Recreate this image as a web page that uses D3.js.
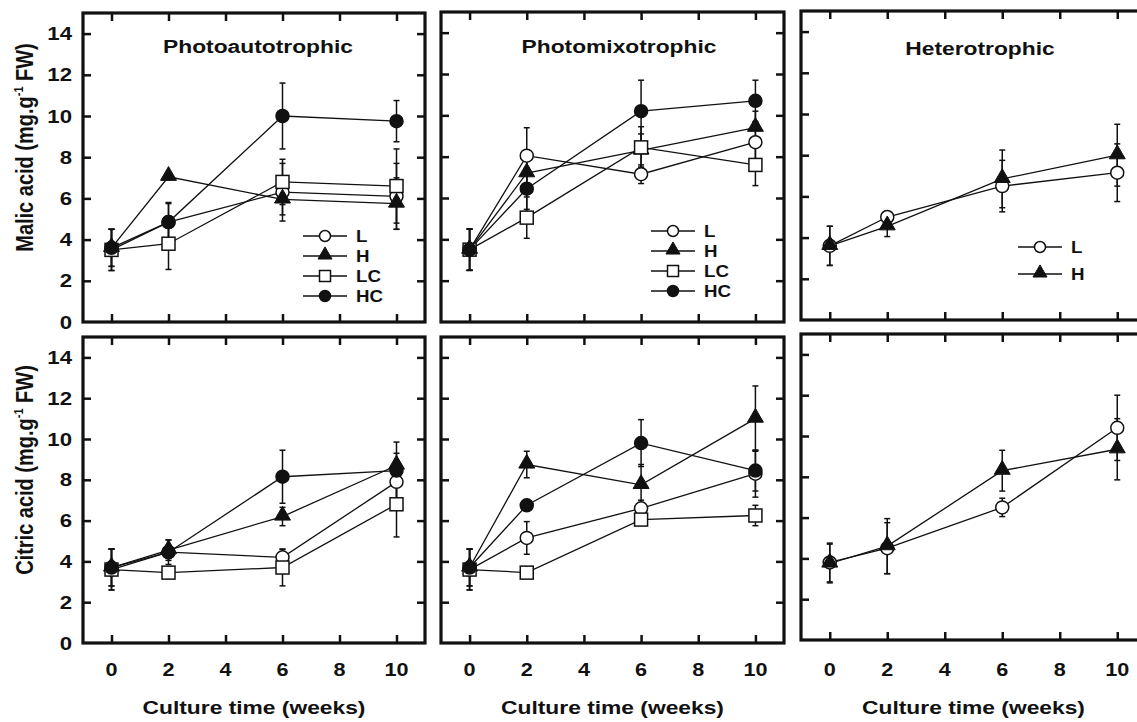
<!DOCTYPE html>
<html>
<head>
<meta charset="utf-8">
<script src="https://cdn.jsdelivr.net/npm/d3@7"></script>
<style>
  body { margin: 0; background: #fff; }
  svg { font-family: "Liberation Sans", Arial, sans-serif; font-weight: bold; }
</style>
</head>
<body>
<svg id="chart" width="1137" height="722"></svg>
<script>
// x values (weeks) and ticks
var weeks = [0, 2, 6, 10];
var xTicks = [0, 2, 4, 6, 8, 10];
var yTicks = [2, 4, 6, 8, 10, 12, 14];
var yTickLabels = [0, 2, 4, 6, 8, 10, 12, 14];

var names4 = ["L", "H", "LC", "HC"];
var names2 = ["L", "H"];

// malic acid, rows in the order of names4 / names2
var malicAuto    = [[3.5, 4.85, 6.3, 6.1], [3.6, 7.05, 5.95, 5.75], [3.5, 3.8, 6.8, 6.6], [3.6, 4.85, 10.0, 9.75]];
var malicAutoErr = [[1.0, 0.9, 1.4, 1.6], [0.9, 0.15, 0.75, 1.25], [1.0, 1.25, 1.1, 1.8], [0.9, 0.95, 1.6, 1.0]];
var malicMixo    = [[3.5, 8.05, 7.15, 8.7], [3.5, 7.2, 8.3, 9.4], [3.5, 5.05, 8.45, 7.6], [3.5, 6.45, 10.2, 10.7]];
var malicMixoErr = [[1.0, 1.35, 0.45, 0.8], [1.0, 0.6, 0.8, 0.8], [1.0, 1.0, 1.0, 1.0], [1.0, 1.0, 1.5, 1.0]];
var malicHetero    = [[3.6, 5.0, 6.5, 7.15], [3.6, 4.55, 6.85, 8.0]];
var malicHeteroErr = [[0.95, 0.2, 1.25, 1.4], [0.95, 0.5, 1.4, 1.5]];

// citric acid
var citricAuto    = [[3.6, 4.45, 4.2, 7.9], [3.7, 4.55, 6.2, 8.7], [3.6, 3.45, 3.7, 6.8], [3.7, 4.45, 8.15, 8.45]];
var citricAutoErr = [[1.0, 0.3, 0.4, 0.8], [0.9, 0.5, 0.45, 0.6], [1.0, 0.15, 0.9, 1.6], [0.9, 0.6, 1.3, 1.4]];
var citricMixo    = [[3.6, 5.15, 6.6, 8.3], [3.7, 8.75, 7.75, 11.0], [3.6, 3.45, 6.05, 6.25], [3.7, 6.75, 9.8, 8.45]];
var citricMixoErr = [[1.0, 0.8, 0.4, 1.15], [0.9, 0.65, 1.0, 1.6], [1.0, 0.1, 0.2, 0.5], [0.9, 0.15, 1.15, 1.0]];
var citricHetero    = [[3.8, 4.5, 6.5, 10.4], [3.75, 4.6, 8.3, 9.35]];
var citricHeteroErr = [[0.95, 1.25, 0.45, 1.6], [0.95, 1.35, 1.0, 1.5]];

var svg = d3.select("#chart");
var SX = 1.2; // the reference text is stretched horizontally

// text helper with a non-uniform scale
function label(parent, txt, x, y, opts) {
    opts = opts || {};
    var t = parent.append("text")
        .attr("transform", "translate(" + x + "," + y + ") scale(" + (opts.sx || SX) + "," + (opts.sy || 1) + ")" + (opts.rot ? " rotate(" + opts.rot + ")" : ""))
        .attr("text-anchor", opts.anchor || "start")
        .attr("font-size", opts.size || 18)
        .attr("fill", "#111");
    if (opts.dy) t.attr("dy", opts.dy);
    t.text(txt);
    return t;
}

function marker(g, name, cx, cy, big) {
    var r = big ? 6.5 : 5.5;
    if (name == "L" || name == "HC") {
        g.append("circle").attr("cx", cx).attr("cy", cy).attr("r", r)
            .attr("fill", name == "L" ? "#fff" : "#111").attr("stroke", "#111").attr("stroke-width", 1.5);
    } else if (name == "LC") {
        g.append("rect").attr("x", cx - r).attr("y", cy - r).attr("width", 2 * r).attr("height", 2 * r)
            .attr("fill", "#fff").attr("stroke", "#111").attr("stroke-width", 1.5);
    } else {
        g.append("path").attr("d", d3.symbol().type(d3.symbolTriangle).size(big ? 110 : 85)())
            .attr("transform", "translate(" + cx + "," + (cy - 1) + ")")
            .attr("fill", "#111").attr("stroke", "#111").attr("stroke-width", 1);
    }
}

var panels = [
    { title: "Photoautotrophic", tx: 258, ty: 53, vals: malicAuto, errs: malicAutoErr, names: names4,
      left: 83, right: 425, top: 13, bottom: 322, yTitle: "Malic acid", legend: [325, 236] },
    { title: "Photomixotrophic", tx: 619, ty: 53, vals: malicMixo, errs: malicMixoErr, names: names4,
      left: 441, right: 784, top: 12, bottom: 322, legend: [673, 231] },
    { title: "Heterotrophic", tx: 980, ty: 55, vals: malicHetero, errs: malicHeteroErr, names: names2,
      left: 801, right: 1146, top: 11, bottom: 320, legend: [1040, 247] },
    { vals: citricAuto, errs: citricAutoErr, names: names4,
      left: 83, right: 425, top: 337, bottom: 643, yTitle: "Citric acid", xLabels: true },
    { vals: citricMixo, errs: citricMixoErr, names: names4,
      left: 441, right: 784, top: 337, bottom: 643, xLabels: true },
    { vals: citricHetero, errs: citricHeteroErr, names: names2,
      left: 801, right: 1146, top: 334, bottom: 640, xLabels: true }
];

panels.forEach(function (p) {
    var x = d3.scaleLinear().domain([-1, 11]).range([p.left, p.right]);
    var y = d3.scaleLinear().domain([0, 15]).range([p.bottom, p.top]);
    var g = svg.append("g");

    // inward ticks on all four sides
    var tickStyle = function (a) {
        a.select(".domain").remove();
        a.selectAll("line").attr("stroke", "#111").attr("stroke-width", 2.5);
    };
    g.append("g").attr("transform", "translate(0," + p.bottom + ")")
        .call(d3.axisTop(x).tickValues(xTicks).tickSize(8).tickFormat("")).call(tickStyle);
    g.append("g").attr("transform", "translate(0," + p.top + ")")
        .call(d3.axisBottom(x).tickValues(xTicks).tickSize(8).tickFormat("")).call(tickStyle);
    g.append("g").attr("transform", "translate(" + p.left + ",0)")
        .call(d3.axisRight(y).tickValues(yTicks).tickSize(8).tickFormat("")).call(tickStyle);
    g.append("g").attr("transform", "translate(" + p.right + ",0)")
        .call(d3.axisLeft(y).tickValues(yTicks).tickSize(8).tickFormat("")).call(tickStyle);

    // frame
    g.append("rect").attr("x", p.left).attr("y", p.top)
        .attr("width", p.right - p.left).attr("height", p.bottom - p.top)
        .attr("fill", "none").attr("stroke", "#111").attr("stroke-width", 3.2);

    // series lines
    var line = d3.line().x(function (d, i) { return x(weeks[i]); }).y(function (d) { return y(d); });
    p.vals.forEach(function (v) {
        g.append("path").attr("d", line(v)).attr("fill", "none")
            .attr("stroke", "#111").attr("stroke-width", 1.3);
    });

    // error bars
    p.vals.forEach(function (v, s) {
        v.forEach(function (d, i) {
            var e = p.errs[s][i], cx = x(weeks[i]);
            g.append("line").attr("x1", cx).attr("x2", cx).attr("y1", y(d - e)).attr("y2", y(d + e))
                .attr("stroke", "#111").attr("stroke-width", 1.5);
            [d - e, d + e].forEach(function (c) {
                g.append("line").attr("x1", cx - 3).attr("x2", cx + 3).attr("y1", y(c)).attr("y2", y(c))
                    .attr("stroke", "#111").attr("stroke-width", 1.5);
            });
        });
    });

    // markers
    p.vals.forEach(function (v, s) {
        v.forEach(function (d, i) { marker(g, p.names[s], x(weeks[i]), y(d), true); });
    });

    if (p.title) label(g, p.title, p.tx, p.ty, { anchor: "middle", size: 19 });

    // y tick labels and title on the left column
    if (p.yTitle) {
        yTickLabels.forEach(function (t) {
            label(g, t, p.left - 11, y(t), { anchor: "end", size: 18.5, dy: "0.36em" });
        });
        var yt = label(g, p.yTitle + " (mg.g", 33, (p.top + p.bottom) / 2 - 20, { anchor: "middle", size: 20, rot: -90 });
        yt.append("tspan").attr("font-size", 11).attr("dy", -8).text("-1");
        yt.append("tspan").attr("dy", 8).text(" FW)");
    }

    if (p.xLabels) {
        xTicks.forEach(function (t) {
            label(g, t, x(t), 676, { anchor: "middle", size: 18 });
        });
        label(g, "Culture time (weeks)", x(5), 714, { anchor: "middle", size: 19 });
    }

    // legend
    if (p.legend) {
        var lx = p.legend[0], ly = p.legend[1];
        p.names.forEach(function (n, i) {
            var yy = ly + i * (p.names.length == 4 ? 20 : 27);
            g.append("line").attr("x1", lx - 22).attr("x2", lx + 22).attr("y1", yy).attr("y2", yy)
                .attr("stroke", "#111").attr("stroke-width", 1.3);
            marker(g, n, lx, yy, false);
            label(g, n, lx + 31, yy, { size: 17, sx: 1.1, sy: 1, dy: "0.36em" });
        });
    }
});
</script>
</body>
</html>
